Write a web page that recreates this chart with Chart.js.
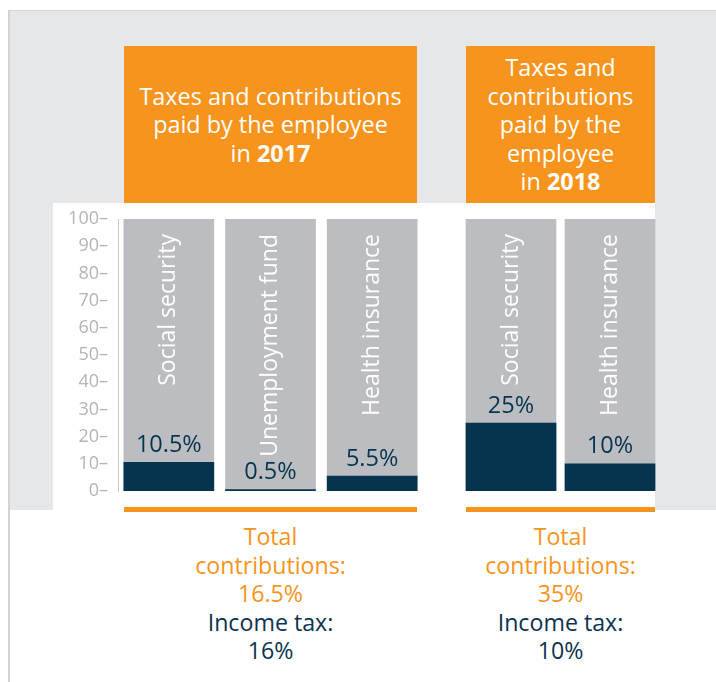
<!DOCTYPE html>
<html>
<head>
<meta charset="utf-8">
<script src="https://cdn.jsdelivr.net/npm/chart.js@4.4.1/dist/chart.umd.min.js"></script>
<style>
  html, body { margin: 0; padding: 0; background: #fff; }
  body { width: 716px; height: 682px; position: relative; overflow: hidden; font-family: "Open Sans", sans-serif; }
  .abs { position: absolute; }
  #panel { left: 8px; top: 10px; width: 708px; height: 500px; background: #e6e7e9; border-top: 1px solid #d2d3d5; border-left: 2px solid #d2d3d5; box-sizing: border-box; }
  #leftline { left: 8px; top: 510px; width: 2px; height: 172px; background: #d2d3d5; }
  #plotbg { left: 53px; top: 203px; width: 602px; height: 307px; background: #fff; }
  .head { top: 46px; height: 157px; background: #f7941d; color: #fff; font-size: 23.4px; line-height: 28.5px;
          display: flex; align-items: center; justify-content: center; text-align: center; }
  .rule { top: 507px; height: 5px; background: #f7941d; }
  .foot { top: 522px; font-size: 23.2px; line-height: 28.5px; text-align: center; }
  .foot .o { color: #f7941d; }
  .foot .n { color: #0b3350; }
</style>
</head>
<body>
<div id="panel" class="abs"></div>
<div id="leftline" class="abs"></div>
<div id="plotbg" class="abs"></div>

<div class="abs head" style="left:124px;width:293px;">
  <div>Taxes and contributions<br>paid by the employee<br>in <b>2017</b></div>
</div>
<div class="abs head" style="left:466px;width:189px;">
  <div>Taxes and<br>contributions<br>paid by the<br>employee<br>in <b>2018</b></div>
</div>

<canvas id="c2017" class="abs" width="370" height="300" style="left:53px;top:203px;"></canvas>
<canvas id="c2018" class="abs" width="210" height="300" style="left:455px;top:203px;"></canvas>

<div class="abs rule" style="left:124px;width:293px;"></div>
<div class="abs rule" style="left:466px;width:189px;"></div>

<div class="abs foot" id="foot2017" style="left:124px;width:293px;"></div>
<div class="abs foot" id="foot2018" style="left:466px;width:189px;"></div>

<script>
// data
const labels2017 = ['Social security', 'Unemployment fund', 'Health insurance'];
const values2017 = [10.5, 0.5, 5.5];
const full2017 = [100, 100, 100];

const labels2018 = ['Social security', 'Health insurance'];
const values2018 = [25, 10];
const full2018 = [100, 100];

const yTicks = [0, 10, 20, 30, 40, 50, 60, 70, 80, 90, 100];

const totals = { 2017: 16.5, 2018: 35 };
const incomeTax = { 2017: 16, 2018: 10 };

const NAVY = '#06344f';
const GREY = '#bcbdc0';

Chart.defaults.font.family = 'Open Sans';

// footer texts
[2017, 2018].forEach(y => {
  document.getElementById('foot' + y).innerHTML =
    '<span class="o">Total<br>contributions:<br>' + totals[y] + '%</span><br>' +
    '<span class="n">Income tax:<br>' + incomeTax[y] + '%</span>';
});

// names rotated inside bars + percent above the dark part
const barText = {
  id: 'barText',
  afterDatasetsDraw(chart) {
    const ctx = chart.ctx;
    const meta = chart.getDatasetMeta(0);
    const yScale = chart.scales.y;
    ctx.save();
    meta.data.forEach((bar, i) => {
      const v = chart.data.datasets[0].data[i];
      // category name
      ctx.save();
      ctx.translate(bar.x, chart.chartArea.top + 15);
      ctx.rotate(-Math.PI / 2);
      ctx.fillStyle = '#fff';
      ctx.font = '23px "Open Sans"';
      ctx.textAlign = 'right';
      ctx.textBaseline = 'middle';
      ctx.fillText(chart.data.labels[i], 0, 0);
      ctx.restore();
      // value
      ctx.fillStyle = NAVY;
      ctx.font = '23.5px "Open Sans"';
      ctx.textAlign = 'center';
      ctx.textBaseline = 'middle';
      ctx.fillText(v + '%', bar.x, yScale.getPixelForValue(v) - 17);
    });
    ctx.restore();
  }
};

function makeChart(id, labels, values, full, showAxis, pad) {
  return new Chart(document.getElementById(id), {
    type: 'bar',
    data: {
      labels: labels,
      datasets: [
        { data: values, backgroundColor: NAVY, order: 0, grouped: false, barThickness: 90 },
        { data: full, backgroundColor: GREY, order: 1, grouped: false, barThickness: 90 }
      ]
    },
    options: {
      responsive: false,
      animation: false,
      devicePixelRatio: 1,
      layout: { padding: pad },
      plugins: { legend: { display: false }, tooltip: { enabled: false } },
      scales: {
        x: { display: false },
        y: {
          display: showAxis,
          min: 0,
          max: 100,
          afterBuildTicks: s => { s.ticks = yTicks.map(v => ({ value: v })); },
          afterFit: s => {
            if (!showAxis) return;
            s.width = 65;
            s.paddingTop = 0;
            s.paddingBottom = 0;
          },
          grid: { display: false, drawTicks: false },
          border: { display: showAxis, color: '#c9c9c9', width: 1 },
          ticks: {
            padding: 10,
            color: '#b4b4b4',
            font: { family: 'Open Sans', size: 18 },
            callback: v => v + '\u2013'
          }
        }
      }
    },
    plugins: [barText]
  });
}

makeChart('c2017', labels2017, values2017, full2017, true, { top: 16, bottom: 12, left: 0, right: 0 });
makeChart('c2018', labels2018, values2018, full2018, false, { top: 16, bottom: 12, left: 6.5, right: 5.5 });
</script>
</body>
</html>
